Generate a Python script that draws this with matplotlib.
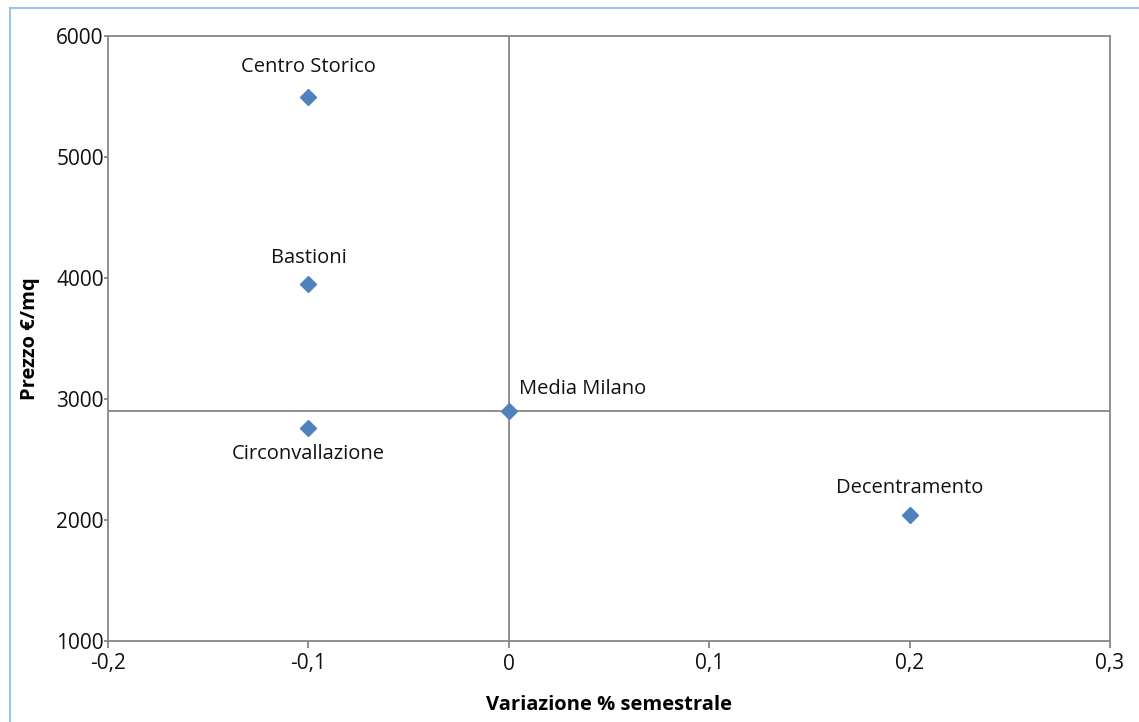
import matplotlib
matplotlib.use("Agg")
import matplotlib.pyplot as plt
from matplotlib.patches import Rectangle

plt.rcParams['font.family'] = ['Open Sans', 'DejaVu Sans']

names = ["Centro Storico", "Bastioni", "Circonvallazione", "Media Milano", "Decentramento"]
variazione = [-0.1, -0.1, -0.1, 0.0, 0.2]
prezzo = [5500, 3950, 2760, 2900, 2040]
label_offsets = [(0, 30), (0, 26), (0, -26), (10, 22), (0, 27)]
label_ha = ["center", "center", "center", "left", "center"]
xticks = [-0.2, -0.1, 0.0, 0.1, 0.2, 0.3]
xtick_labels = ["-0,2", "-0,1", "0", "0,1", "0,2", "0,3"]
yticks = [1000, 2000, 3000, 4000, 5000, 6000]
media_x = 0.0
media_y = 2900

W, H = 1139, 722
fig = plt.figure(figsize=(W / 100, H / 100), dpi=100)
fig.patch.set_facecolor("white")
fig.add_artist(Rectangle((10 / W, -0.2), 1.2, 1.2 - 8 / H, transform=fig.transFigure,
                         fill=False, edgecolor="#9DC3E6", linewidth=1.5))

ax = fig.add_axes([108 / W, 1 - 641 / H, (1110 - 108) / W, (641 - 36) / H])
gray = "#878787"
for s in ax.spines.values():
    s.set_color(gray)
    s.set_linewidth(1.3)

ax.set_xlim(-0.2, 0.3)
ax.set_ylim(1000, 6000)
ax.axvline(media_x, color=gray, lw=1.3, zorder=1)
ax.axhline(media_y, color=gray, lw=1.3, zorder=1)

ax.plot(variazione, prezzo, linestyle="none", marker="D", markersize=8.5,
        color="#4F81BD", markeredgecolor="#4F81BD", zorder=3, clip_on=False)

for n, x, y, off, ha in zip(names, variazione, prezzo, label_offsets, label_ha):
    ax.annotate(n, (x, y), xytext=off, textcoords="offset pixels",
                ha=ha, va="center", fontsize=14.5, color="#111111")

ax.set_xticks(xticks)
ax.set_xticklabels(xtick_labels)
ax.set_yticks(yticks)
ax.tick_params(axis="both", colors=gray, length=5, width=1.3, labelsize=15,
               labelcolor="#111111")
ax.tick_params(axis="x", pad=4)
ax.tick_params(axis="y", length=3, pad=0)

ax.set_xlabel("Variazione % semestrale", fontsize=14.5, fontweight="bold", labelpad=15)
ax.set_ylabel("Prezzo €/mq", fontsize=14.5, fontweight="bold", labelpad=12)

fig.savefig("out.png", dpi=100, facecolor="white")
